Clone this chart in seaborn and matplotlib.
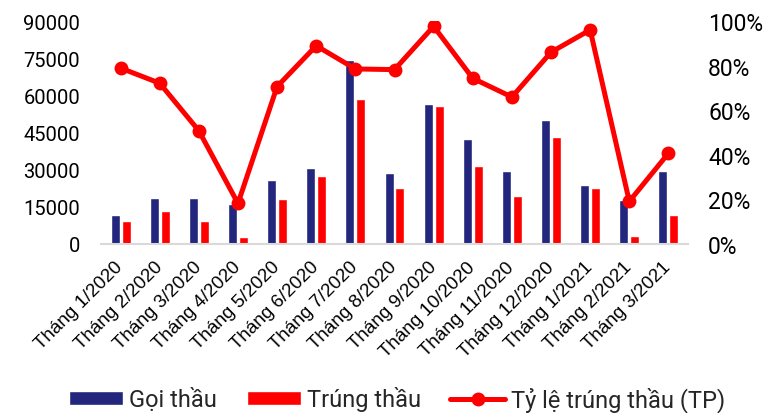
import numpy as np
import pandas as pd
import matplotlib
matplotlib.use("Agg")
import matplotlib.pyplot as plt
from matplotlib.ticker import FuncFormatter, MultipleLocator
import seaborn as sns

months = ["Tháng 1/2020", "Tháng 2/2020", "Tháng 3/2020", "Tháng 4/2020",
          "Tháng 5/2020", "Tháng 6/2020", "Tháng 7/2020", "Tháng 8/2020",
          "Tháng 9/2020", "Tháng 10/2020", "Tháng 11/2020", "Tháng 12/2020",
          "Tháng 1/2021", "Tháng 2/2021", "Tháng 3/2021"]
goi_thau = [11600, 18600, 18600, 16000, 25700, 30700, 74300, 28700,
            56600, 42200, 29300, 50200, 23700, 17800, 29300]
trung_thau = [9200, 13300, 9400, 2700, 18200, 27300, 58500, 22500,
              55600, 31300, 19400, 43200, 22700, 3200, 11800]
ty_le = [0.789, 0.721, 0.508, 0.182, 0.706, 0.889, 0.785, 0.782,
         0.976, 0.743, 0.659, 0.860, 0.960, 0.191, 0.407]

series_names = ["Gọi thầu", "Trúng thầu"]
line_name = "Tỷ lệ trúng thầu (TP)"

navy = "#22267C"
red = "#FF0000"

sns.set_theme(style="white")
plt.rcParams["font.family"] = ["Roboto", "DejaVu Sans"]

bars = pd.DataFrame({
    "month": months * 2,
    "series": [series_names[0]] * len(months) + [series_names[1]] * len(months),
    "value": goi_thau + trung_thau,
})

fig = plt.figure(figsize=(7.66, 4.14), dpi=100)
ax = fig.add_axes([101 / 766, 169 / 414, 587 / 766, 223 / 414])

sns.barplot(data=bars, x="month", y="value", hue="series", order=months,
            hue_order=series_names, palette=[navy, red], width=0.56, gap=0.18,
            saturation=1, ax=ax, legend=True)
ax.set_xlim(-0.5, len(months) - 0.5)
ax.set_ylim(0, 90000)
ax.yaxis.set_major_locator(MultipleLocator(15000))
ax.set_xlabel("")
ax.set_ylabel("")

ax2 = ax.twinx()
sns.lineplot(x=np.arange(len(months)), y=ty_le, color=red, linewidth=3.6,
             marker="o", markersize=10, markeredgewidth=0, label=line_name,
             ax=ax2, legend=True)
ax2.set_ylim(0, 1.0)
ax2.yaxis.set_major_locator(MultipleLocator(0.2))
ax2.yaxis.set_major_formatter(FuncFormatter(lambda v, _: f"{v * 100:.0f}%"))
ax2.set_xlim(-0.5, len(months) - 0.5)

for a in (ax, ax2):
    for s in a.spines.values():
        s.set_visible(False)
ax.spines["bottom"].set_visible(True)
ax.spines["bottom"].set_color("#D9D9D9")
ax.spines["bottom"].set_linewidth(1.5)

ax.tick_params(axis="y", length=0, pad=15, labelsize=14.5, labelcolor="#000000")
ax.tick_params(axis="x", length=0, pad=14.5)
ax2.tick_params(axis="y", length=0, pad=14.5, labelsize=16.5, labelcolor="#000000")

for lbl in ax.get_xticklabels():
    lbl.set_rotation(45)
    lbl.set_ha("right")
    lbl.set_va("center")
    lbl.set_rotation_mode("anchor")
    lbl.set_fontfamily(["Liberation Sans", "DejaVu Sans"])
    lbl.set_fontsize(13.5)
    lbl.set_color("#000000")

h1, l1 = ax.get_legend_handles_labels()
h2, l2 = ax2.get_legend_handles_labels()
ax.get_legend().remove()
ax2.get_legend().remove()
fig.legend(h1 + h2, l1 + l2, loc="center", bbox_to_anchor=(397 / 766, 14 / 414),
           ncol=3, frameon=False, fontsize=17, handlelength=2.3,
           handleheight=0.5, handletextpad=0.25, columnspacing=1.25,
           borderpad=0)

fig.savefig("out.png", dpi=100)
